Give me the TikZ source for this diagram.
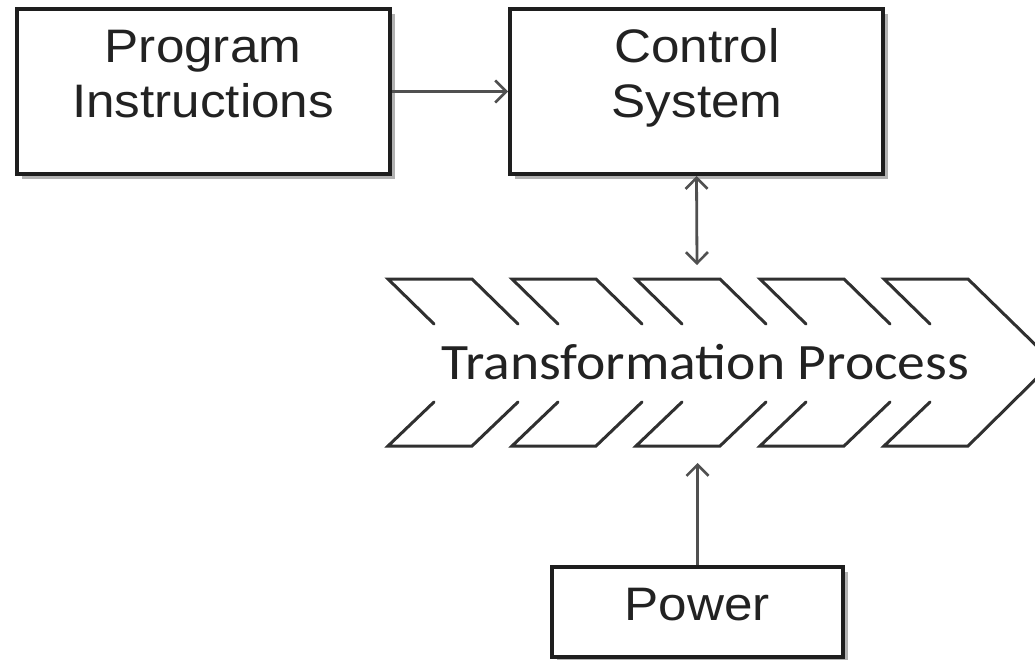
\documentclass[tikz,border=0pt]{standalone}
\usepackage{fontspec}
\setmainfont{Liberation Sans}[FakeStretch=1.09]
\newfontfamily\carl{Carlito}[FakeStretch=1.09]
\usetikzlibrary{arrows.meta,shadows}
\definecolor{edge}{HTML}{1E1E1E}
\definecolor{conn}{HTML}{505050}
\definecolor{chev}{HTML}{303030}
\definecolor{txt}{HTML}{222222}
\tikzset{
  box/.style={draw=edge, line width=4pt, fill=white,
    drop shadow={shadow xshift=5pt, shadow yshift=-5pt, fill=black, opacity=0.3}},
  lbl/.style={inner sep=0pt, align=center, text=txt, font=\fontsize{47}{55}\selectfont},
  conn/.style={draw=conn, line width=2.8pt},
  tip/.style={-{Straight Barb[length=11pt,width=22pt,line width=2.6pt]}},
  dtip/.style={{Straight Barb[length=11pt,width=22pt,line width=2.6pt]}-{Straight Barb[length=11pt,width=22pt,line width=2.6pt]}},
  chevline/.style={draw=chev, line width=3pt, line cap=round, line join=miter}
}
\begin{document}
\begin{tikzpicture}[x=1pt,y=-1pt]
\useasboundingbox (0,0) rectangle (1035,659);
\begin{scope}
\clip (0,0) rectangle (1035,659);
% boxes
\node[box, minimum width=373pt, minimum height=165pt, inner sep=0pt] (prog) at (203.5,91.5) {};
\node[box, minimum width=373pt, minimum height=165pt, inner sep=0pt] (ctrl) at (696.5,91.5) {};
\node[box, minimum width=291pt, minimum height=90pt, inner sep=0pt] (pow) at (697.5,612) {};
\node[lbl, anchor=base] (progt) at (203,117) {Program\\Instructions};
\node[lbl, anchor=base] (ctrlt) at (697,117) {Control\\System};
\node[lbl, anchor=base] (powt) at (697,620) {Power};
% chevrons
\foreach \i in {0,...,3}{
  \pgfmathsetmacro{\xa}{388+124*\i}
  \draw[chevline] (\xa+46,324) -- (\xa,279) -- (\xa+84,279) -- (\xa+130,324);
  \draw[chevline] (\xa+46,402) -- (\xa,446) -- (\xa+84,446) -- (\xa+130,402);
}
\draw[chevline] (930,324) -- (884,279) -- (968,279) -- (1053,362) -- (968,446) -- (884,446) -- (930,402);
\node[inner sep=0pt, text=txt, font=\carl\fontsize{51}{60}\selectfont] (tp) at (705.5,362) {Transformation Process};
\coordinate (tptop) at (697,265);
\coordinate (tpbot) at (697.5,463);
% connectors
\draw[conn, tip] (prog.east) -- (ctrl.west);
\draw[conn, dtip] (ctrl.south) -- (tptop);
\draw[conn, tip] (pow.north) -- (tpbot);
\end{scope}
\end{tikzpicture}
\end{document}
